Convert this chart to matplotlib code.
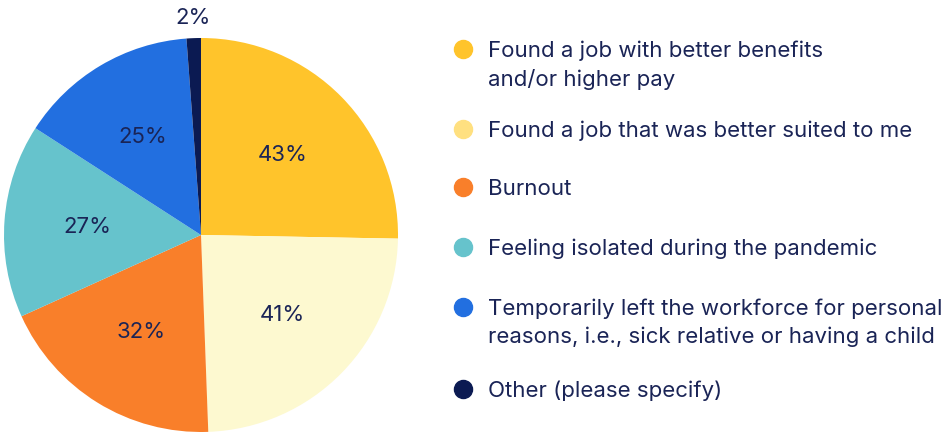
import matplotlib
matplotlib.use("Agg")
import matplotlib.pyplot as plt
import numpy as np

categories = [
    "Found a job with better benefits\nand/or higher pay",
    "Found a job that was better suited to me",
    "Burnout",
    "Feeling isolated during the pandemic",
    "Temporarily left the workforce for personal\nreasons, i.e., sick relative or having a child",
    "Other (please specify)",
]
values = [43, 41, 32, 27, 25, 2]
labels = ["43%", "41%", "32%", "27%", "25%", "2%"]
slice_colors = ["#FFC42B", "#FDF9D0", "#F97F2A", "#66C3CC", "#226FE0", "#0B1A52"]
legend_colors = ["#FFC42B", "#FFE080", "#F97F2A", "#66C3CC", "#226FE0", "#0B1A52"]
text_color = "#1A2456"

plt.rcParams['font.family'] = ['Inter', 'DejaVu Sans']

W, H = 945, 432
fig = plt.figure(figsize=(W/100, H/100), dpi=100)

cx, cy, r = 201, 235, 197
ax = fig.add_axes([(cx - r)/W, (H - cy - r)/H, 2*r/W, 2*r/H])
wedges, _ = ax.pie(values, colors=slice_colors, startangle=90, counterclock=False,
                   radius=1, wedgeprops=dict(linewidth=0))
ax.set_xlim(-1, 1)
ax.set_ylim(-1, 1)
ax.set_aspect('equal')
ax.axis('off')

for w, lab, v in zip(wedges, labels, values):
    ang = np.deg2rad((w.theta1 + w.theta2) / 2)
    d = 1.1 if v < 5 else 0.58
    ax.text(d*np.cos(ang), d*np.sin(ang), lab, ha='center', va='center',
            fontsize=16, color=text_color)

marker_y = [49, 129, 187, 247, 307, 389]
for yy, cat, col in zip(marker_y, categories, legend_colors):
    fig.text(488/W, 1 - yy/H, cat.split("\n")[0], ha='left', va='center_baseline', fontsize=16,
             color=text_color)
    if "\n" in cat:
        fig.text(488/W, 1 - (yy + 28)/H, cat.split("\n")[1], ha='left', va='center_baseline',
                 fontsize=16, color=text_color)
    fig.add_artist(matplotlib.lines.Line2D([463/W], [1 - yy/H], marker='o', markersize=13,
                                           color=col, linestyle='none', transform=fig.transFigure))

fig.savefig("out.png", dpi=100)
